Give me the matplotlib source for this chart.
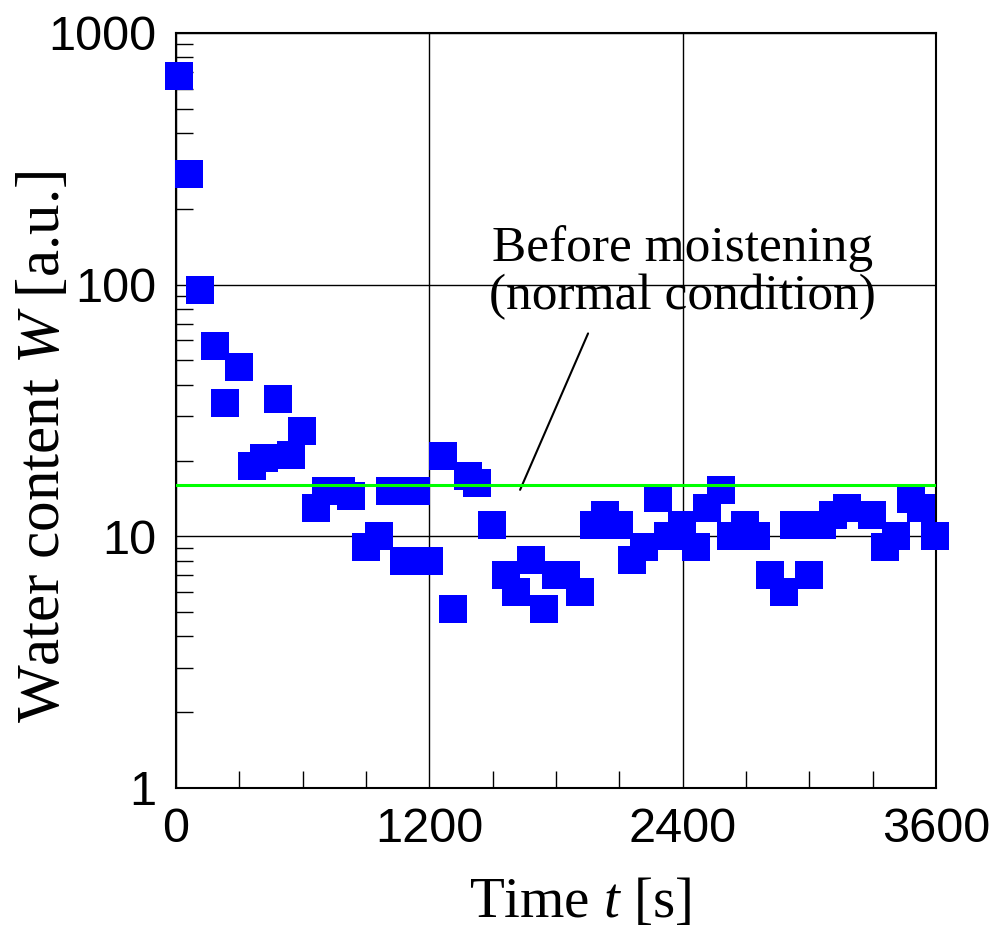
import matplotlib
matplotlib.use("Agg")
import matplotlib.pyplot as plt
from matplotlib.ticker import FixedLocator, LogLocator, NullFormatter

plt.rcParams["mathtext.fontset"] = "custom"
plt.rcParams["mathtext.it"] = "Liberation Serif:italic"
plt.rcParams["mathtext.rm"] = "Liberation Serif"

# Time [s] and water content W [a.u.]
time_s = [15, 64, 114, 183, 231, 300, 361, 415, 483, 546,
          598, 663, 712, 782, 829, 899, 962, 1015, 1081, 1136,
          1200, 1263, 1312, 1383, 1427, 1498, 1564, 1612, 1682, 1745,
          1799, 1847, 1915, 1982, 2030, 2098, 2162, 2215, 2282, 2331,
          2395, 2461, 2515, 2582, 2629, 2695, 2746, 2814, 2880, 2929,
          2997, 2995, 3062, 3111, 3180, 3297, 3360, 3411, 3480, 3531,
          3597]
water = [677, 274, 95.6, 56.9, 33.9, 47.0, 19.0, 20.5, 35.2, 21.0,
         26.3, 12.9, 15.2, 15.2, 14.4, 9.1, 10.0, 15.2, 8.0, 15.2,
         8.0, 20.9, 5.12, 17.3, 16.3, 11.1, 7.04, 6.0, 8.03, 5.15,
         7.04, 7.04, 6.0, 11.1, 12.1, 11.1, 8.03, 9.1, 14.2, 10.0,
         11.1, 9.1, 12.9, 15.3, 10.0, 11.1, 10.0, 7.04, 6.0, 11.1,
         7.04, 11.1, 11.1, 12.1, 12.9, 12.1, 9.1, 10.0, 14.1, 12.9,
         10.0]

normal_level = 16.0          # "before moistening" reference level
x_ticks = [0, 1200, 2400, 3600]
x_minor = [300, 600, 900, 1500, 1800, 2100, 2700, 3000, 3300]
y_ticks = [1, 10, 100, 1000]

# annotation: text centre and leader line end points (time, W)
note_pos = (2400, 112)
leader_from = (1952, 64)
leader_to = (1630, 15.3)

serif = "Liberation Serif"

fig = plt.figure(figsize=(9.97, 9.31), dpi=100)
ax = fig.add_axes([0.1765, 0.1536, 0.7623, 0.811])

ax.set_yscale("log")
ax.set_xlim(0, 3600)
ax.set_ylim(1, 1000)

ax.plot(time_s, water, linestyle="none", marker="s", markersize=19.6,
        color="#0000FF", markeredgewidth=0, zorder=3, clip_on=False)
ax.plot([0, 3600], [normal_level, normal_level], color="#00FF00", lw=2.2, zorder=4)

# grid + ticks
ax.set_axisbelow(True)
ax.grid(True, which="major", color="black", lw=1.0)
ax.xaxis.set_major_locator(FixedLocator(x_ticks))
ax.xaxis.set_minor_locator(FixedLocator(x_minor))
ax.yaxis.set_major_locator(FixedLocator(y_ticks))
ax.yaxis.set_minor_locator(LogLocator(base=10, subs=range(2, 10)))
ax.yaxis.set_minor_formatter(NullFormatter())
ax.set_xticklabels([str(v) for v in x_ticks])
ax.set_yticklabels([str(v) for v in y_ticks])
ax.tick_params(which="major", length=0, pad=14)
ax.tick_params(which="minor", direction="in", length=12, width=1.0, color="black")
for lab in ax.get_xticklabels() + ax.get_yticklabels():
    lab.set_family("Liberation Sans")
    lab.set_fontsize(35)
for sp in ax.spines.values():
    sp.set_linewidth(1.5)

ax.set_xlabel("Time $\\it{t}$ [s]", fontsize=41, family=serif)
ax.set_ylabel("Water content $\\it{W}$ [a.u.]", fontsize=44, family=serif)
ax.xaxis.set_label_coords(0.532, -0.118)
ax.yaxis.set_label_coords(-0.137, 0.452)

ax.text(note_pos[0], note_pos[1], "Before moistening\n(normal condition)",
        ha="center", va="center", fontsize=37, family=serif, linespacing=1.05)
ax.annotate("", xy=leader_to, xytext=leader_from,
            arrowprops=dict(arrowstyle="-", color="black", lw=1.5, shrinkA=0, shrinkB=0))

fig.savefig("out.png", dpi=100)
